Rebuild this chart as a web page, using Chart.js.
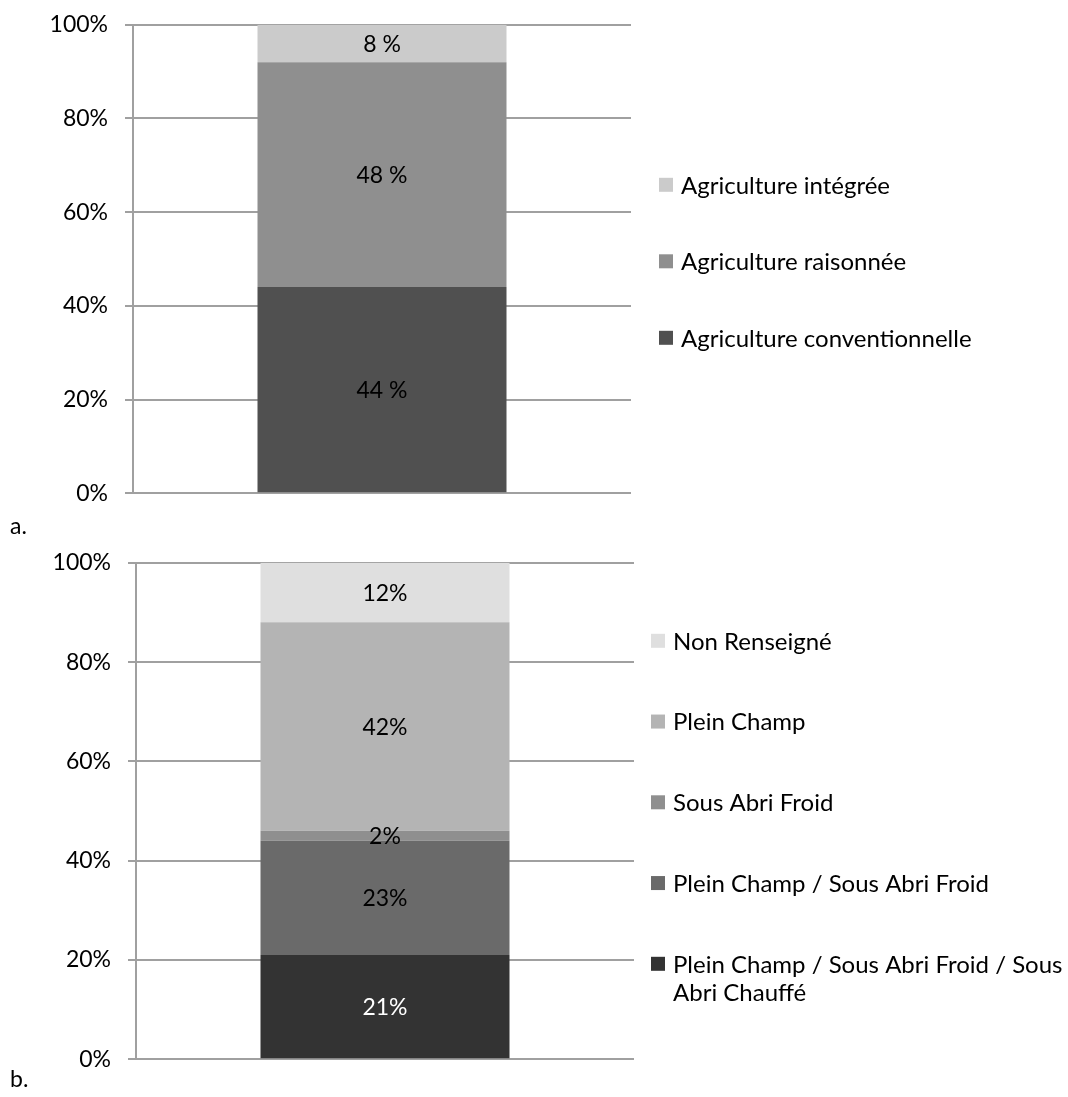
<!DOCTYPE html>
<html lang="fr">
<head>
<meta charset="utf-8">
<title>Répartition des modes de production</title>
<script src="https://cdn.jsdelivr.net/npm/chart.js@4.4.0/dist/chart.umd.min.js"></script>
<style>
    body { margin: 0; background: #fff; width: 1068px; height: 1097px; position: relative; overflow: hidden; font-family: Lato, sans-serif; }
    canvas { position: absolute; left: 0; }
    #graphA { top: -6px; }
    #graphB { top: 532px; }
    .lettre { position: absolute; left: 10px; font-size: 23px; line-height: 23px; color: #000; }
</style>
</head>
<body>
<canvas id="graphA" width="1068" height="530"></canvas>
<div class="lettre" style="top:514px">a.</div>
<canvas id="graphB" width="1068" height="558"></canvas>
<div class="lettre" style="top:1067px">b.</div>

<script>
// Données
const categories = [''];
const ticksPct = [0, 20, 40, 60, 80, 100];

// a. type d'agriculture (du bas vers le haut)
const seriesA = ['Agriculture conventionnelle', 'Agriculture raisonnée', 'Agriculture intégrée'];
const valeursA = [44, 48, 8];

// b. mode de culture (du bas vers le haut)
const seriesB = [
    ['Plein Champ / Sous Abri Froid / Sous', 'Abri Chauffé'],
    'Plein Champ / Sous Abri Froid',
    'Sous Abri Froid',
    'Plein Champ',
    'Non Renseigné'
];
const valeursB = [21, 23, 2, 42, 12];

// Couleurs
const couleursA = ['#505050', '#8f8f8f', '#cbcbcb'];
const couleursB = ['#333333', '#6a6a6a', '#8f8f8f', '#b4b4b4', '#dfdfdf'];
const texteA = ['#000', '#000', '#000'];
const texteB = ['#fff', '#000', '#000', '#000', '#000'];

const POLICE = '23px Lato';
const POLICE_LEGENDE = '24px Lato';

// Etiquettes au centre de chaque segment
const etiquettes = {
    id: 'etiquettes',
    afterDatasetsDraw(chart, args, opts) {
        const ctx = chart.ctx;
        ctx.save();
        ctx.font = POLICE;
        ctx.textAlign = 'center';
        ctx.textBaseline = 'middle';
        chart.data.datasets.forEach((ds, i) => {
            chart.getDatasetMeta(i).data.forEach((barre, j) => {
                const c = barre.getCenterPoint();
                ctx.fillStyle = opts.couleurs[i];
                ctx.fillText(ds.data[j] + opts.suffixe, c.x, c.y + 1);
            });
        });
        ctx.restore();
    }
};

// Légende à droite (ordre inversé, comme Excel)
const legende = {
    id: 'legende',
    afterDraw(chart, args, opts) {
        const ctx = chart.ctx;
        const zone = chart.chartArea;
        const n = chart.data.datasets.length;
        ctx.save();
        ctx.font = POLICE_LEGENDE;
        ctx.textBaseline = 'middle';
        for (let k = 0; k < n; k++) {
            const ds = chart.data.datasets[n - 1 - k];
            const x = zone.right + opts.decalage;
            const y = zone.top + opts.debut + k * opts.pas;
            ctx.fillStyle = ds.backgroundColor;
            ctx.fillRect(x, y - 7, 14, 14);
            ctx.fillStyle = '#000';
            [].concat(ds.label).forEach((ligne, m) => {
                ctx.fillText(ligne, x + 22, y + 1 + m * opts.interligne);
            });
        }
        ctx.restore();
    }
};

function creerGraphique(id, series, valeurs, couleurs, texte, suffixe, marges, largeurAxe, leg) {
    const ctx = document.getElementById(id).getContext('2d');
    return new Chart(ctx, {
        type: 'bar',
        data: {
            labels: categories,
            datasets: series.map((nom, i) => ({
                label: nom,
                data: [valeurs[i]],
                backgroundColor: couleurs[i],
                borderWidth: 0,
                barPercentage: 1,
                categoryPercentage: 0.5
            }))
        },
        options: {
            responsive: false,
            animation: false,
            layout: { padding: marges },
            plugins: {
                legend: { display: false },
                tooltip: { enabled: false },
                etiquettes: { couleurs: texte, suffixe: suffixe },
                legende: leg
            },
            scales: {
                x: { stacked: true, display: false },
                y: {
                    stacked: true,
                    min: 0,
                    max: 100,
                    afterBuildTicks: s => { s.ticks = ticksPct.map(v => ({ value: v })); },
                    afterFit: s => { s.width = largeurAxe; },
                    ticks: {
                        callback: v => v + '%',
                        color: '#000',
                        font: { family: 'Lato', size: 23 },
                        padding: 17
                    },
                    grid: { color: '#a0a0a0', lineWidth: 2, tickLength: 8 },
                    border: { color: '#a0a0a0', width: 2 }
                }
            }
        },
        plugins: [etiquettes, legende]
    });
}

creerGraphique('graphA', seriesA, valeursA, couleursA, texteA, ' %',
    { top: 18, bottom: 2, left: 0, right: 437 }, 133,
    { decalage: 28, debut: 160, pas: 76.5, interligne: 28 });

creerGraphique('graphB', seriesB, valeursB, couleursB, texteB, '%',
    { top: 18, bottom: 6, left: 0, right: 434 }, 136,
    { decalage: 17, debut: 78, pas: 80.75, interligne: 28 });
</script>
</body>
</html>
